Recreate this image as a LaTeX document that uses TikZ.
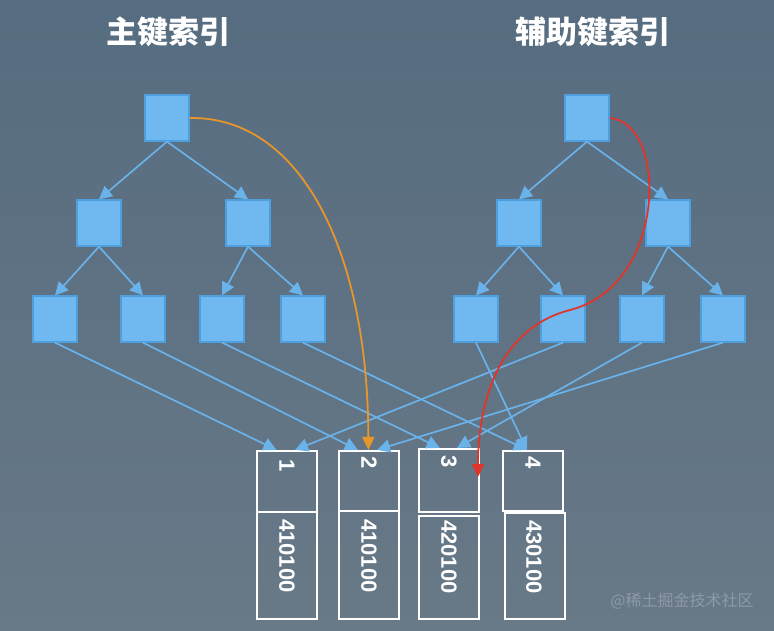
\documentclass[tikz,border=0pt]{standalone}
\usepackage{fontspec}
\setmainfont{Liberation Sans}
\newfontfamily\cjk{Noto Sans CJK SC}
\usetikzlibrary{arrows.meta,calc}
\definecolor{bgtop}{HTML}{566C80}
\definecolor{bgbot}{HTML}{687987}
\definecolor{nodefill}{HTML}{70B8F0}
\definecolor{nodeline}{HTML}{4E9FDD}
\definecolor{edgecol}{HTML}{6AB2EA}
\definecolor{orangecol}{HTML}{E8952A}
\definecolor{redcol}{HTML}{E0352A}
\definecolor{wmcol}{HTML}{8E9AA4}
\tikzset{
  tnode/.style={draw=nodeline,fill=nodefill,line width=1.2pt,minimum width=44pt,minimum height=46pt,inner sep=0pt},
  tedge/.style={draw=edgecol,line width=1.7pt,-{Triangle[length=13pt,width=13pt]}},
  cell/.style={draw=white,line width=2.2pt,minimum width=60pt,inner sep=0pt},
  numtxt/.style={text=white,font=\bfseries\fontsize{22}{22}\selectfont,rotate=-90,inner sep=0pt},
  titletxt/.style={text=white,font=\cjk\bfseries\fontsize{31}{31}\selectfont,inner sep=0pt},
}
\begin{document}
\begin{tikzpicture}[x=1pt,y=-1pt]
\shade[top color=bgtop,bottom color=bgbot] (0,0) rectangle (774,630);
\useasboundingbox (0,0) rectangle (774,630);
% titles
\node[titletxt] (t1) at (168,32) {主键索引};
\node[titletxt] (t2) at (593,32) {辅助键索引};
% left tree
\node[tnode] (Lr) at (167,118) {};
\node[tnode] (La) at (99,223) {};
\node[tnode] (Lb) at (248,223) {};
\node[tnode] (L1) at (55,319) {};
\node[tnode] (L2) at (143,319) {};
\node[tnode] (L3) at (222,319) {};
\node[tnode] (L4) at (303,319) {};
% right tree
\node[tnode] (Rr) at (587,118) {};
\node[tnode] (Ra) at (519,223) {};
\node[tnode] (Rb) at (668,223) {};
\node[tnode] (R1) at (476,319) {};
\node[tnode] (R2) at (563,319) {};
\node[tnode] (R3) at (642,319) {};
\node[tnode] (R4) at (723,319) {};
% bottom cells
\node[cell,minimum height=61pt] (b1t) at (287,481.5) {};
\node[cell,minimum height=107pt] (b1b) at (287,565.5) {};
\node[cell,minimum height=60pt] (b2t) at (369,481) {};
\node[cell,minimum height=108pt] (b2b) at (369,565) {};
\node[cell,minimum height=63pt] (b3t) at (449,480.5) {};
\node[cell,minimum height=103pt] (b3b) at (449,567.5) {};
\node[cell,minimum height=60pt] (b4t) at (533,481) {};
\node[cell,minimum height=106pt] (b4b) at (535,566) {};
\node[numtxt] (n1) at (287,466) {1};
\node[numtxt] (n2) at (369,463) {2};
\node[numtxt] (n3) at (449,462) {3};
\node[numtxt] (n4) at (533,463) {4};
\node[numtxt] (v1) at (287,556) {410100};
\node[numtxt] (v2) at (369,556) {410100};
\node[numtxt] (v3) at (449,557) {420100};
\node[numtxt] (v4) at (534,557) {430100};
% tree edges
\foreach \p/\c in {Lr/La,Lr/Lb,La/L1,La/L2,Lb/L3,Lb/L4,Rr/Ra,Rr/Rb,Ra/R1,Ra/R2,Rb/R3,Rb/R4}
  \draw[tedge] (\p.south) -- (\c.north);
% target points
\coordinate (p1a) at ($(b1t.north west)!0.33!(b1t.north east)$);
\coordinate (p1b) at ($(b1t.north west)!0.63!(b1t.north east)$);
\coordinate (p2a) at ($(b2t.north west)!0.32!(b2t.north east)$);
\coordinate (p2o) at ($(b2t.north west)!0.49!(b2t.north east)$);
\coordinate (p2b) at ($(b2t.north west)!0.63!(b2t.north east)$);
\coordinate (p3a) at ($(b3t.north west)!0.35!(b3t.north east)$);
\coordinate (p3b) at ($(b3t.north west)!0.63!(b3t.north east)$);
\coordinate (p4a) at ($(b4t.north west)!0.40!(b4t.north east)$);
\coordinate (redend) at (478,477);
% leaf -> record edges
\draw[tedge] (L1.south) -- (p1a);
\draw[tedge] (L2.south) -- (p2a);
\draw[tedge] (L3.south) -- (p3a);
\draw[tedge] (L4.south) -- (p4a);
\draw[tedge] (R1.south) -- (p4a);
\draw[tedge] (R2.south) -- (p1b);
\draw[tedge] (R3.south) -- (p3b);
\draw[tedge] (R4.south) -- (p2b);
% lookup paths
\draw[orangecol,line width=1.8pt,-{Triangle[length=13pt,width=12pt]}]
  (Lr.east) .. controls (300,116) and (368,250) .. (p2o);
\draw[redcol,line width=1.8pt,-{Triangle[length=13pt,width=12pt]}]
  (Rr.east) .. controls (668,122) and (668,285) .. (570,310)
  .. controls (500,328) and (478,400) .. (redend);
% watermark
\node[text=wmcol,font=\cjk\fontsize{16}{16}\selectfont,inner sep=0pt] (wm) at (682,601) {@稀土掘金技术社区};
\end{tikzpicture}
\end{document}
